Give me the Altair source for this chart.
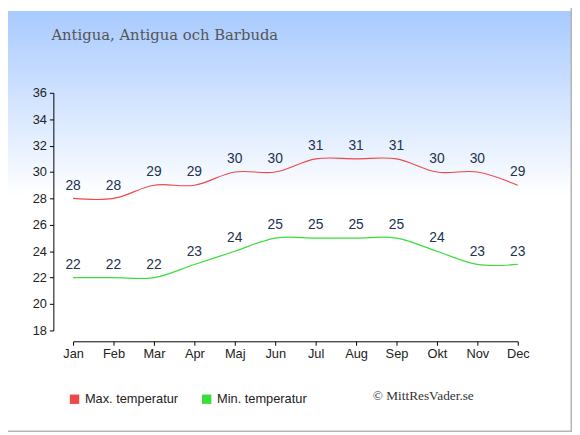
import altair as alt
import pandas as pd

months = ["Jan", "Feb", "Mar", "Apr", "Maj", "Jun", "Jul", "Aug", "Sep", "Okt", "Nov", "Dec"]
max_temp = [28, 28, 29, 29, 30, 30, 31, 31, 31, 30, 30, 29]
min_temp = [22, 22, 22, 23, 24, 25, 25, 25, 25, 24, 23, 23]
series = ["Max. temperatur", "Min. temperatur"]
series_colors = ["#F04848", "#3ADD3A"]
y_ticks = list(range(18, 37, 2))

rows = []
for m, v in zip(months, max_temp):
    rows.append({"month": m, "temp": v, "series": series[0]})
for m, v in zip(months, min_temp):
    rows.append({"month": m, "temp": v, "series": series[1]})
df = pd.DataFrame(rows)
legend_df = pd.DataFrame({"series": series})

W, H = 451, 241
PAD_L, PAD_T = 66, 83
TOTAL_W, TOTAL_H = 572, 427

one = alt.Data(values=[{}])

bg = alt.Chart(one).mark_rect(
    color=alt.Gradient(
        gradient="linear",
        stops=[
            alt.GradientStop(color="#A8CAFF", offset=0),
            alt.GradientStop(color="#FFFFFF", offset=0.44),
            alt.GradientStop(color="#FFFFFF", offset=1),
        ],
        x1=0, x2=0, y1=0, y2=1,
    )
).encode(
    x=alt.value(-PAD_L), x2=alt.value(TOTAL_W - PAD_L),
    y=alt.value(-PAD_T), y2=alt.value(TOTAL_H - PAD_T),
)

border = alt.Chart(one).mark_rect(
    fill="transparent", stroke="#B4B4B4", strokeWidth=1.5
).encode(
    x=alt.value(-PAD_L - 10), x2=alt.value(TOTAL_W - PAD_L - 0.75),
    y=alt.value(-PAD_T - 10), y2=alt.value(TOTAL_H - PAD_T - 0.75),
)

x_enc = alt.X(
    "month:N",
    sort=months,
    scale=alt.Scale(type="point", domain=months, padding=0),
    axis=alt.Axis(
        title=None, labelAngle=0, offset=11, domainColor="#000000",
        tickColor="#000000", tickSize=4, labelPadding=2, labelFontSize=13,
        labelColor="#222222", labelFont="Liberation Sans", grid=False, zindex=2,
        labelOverlap=False,
    ),
)
y_enc = alt.Y(
    "temp:Q",
    scale=alt.Scale(domain=[18, 36], nice=False, zero=False),
    axis=alt.Axis(
        title=None, values=y_ticks, offset=20, domainColor="#000000",
        tickColor="#000000", tickSize=4, labelPadding=3, labelFontSize=13,
        labelColor="#222222", labelFont="Liberation Sans", grid=False, zindex=2,
        labelOverlap=False, labelBound=False, tickCount=10,
    ),
)

lines = alt.Chart(df).mark_line(interpolate="catmull-rom", strokeWidth=1.2).encode(
    x=x_enc,
    y=y_enc,
    color=alt.Color(
        "series:N",
        scale=alt.Scale(domain=series, range=series_colors),
        legend=None,
    ),
)

legend_layer = alt.Chart(legend_df).mark_square(filled=True, size=90, opacity=1).encode(
    x=alt.value(-2000),
    y=alt.value(-2000),
    fill=alt.Fill(
        "series:N",
        scale=alt.Scale(domain=series, range=series_colors),
        legend=alt.Legend(
            title=None, orient="none", legendX=-5, legendY=304,
            direction="horizontal", symbolType="square", symbolSize=90,
            labelFontSize=13, labelColor="#222222", labelFont="Liberation Sans",
            columnPadding=22, labelOffset=4, padding=0, symbolStrokeWidth=0,
            symbolOpacity=1, zindex=2,
        ),
    ),
)

labels = alt.Chart(df).mark_text(
    dy=-13, baseline="middle", fontSize=14, color="#22314F", font="Liberation Sans"
).encode(
    x=x_enc,
    y=y_enc,
    text="temp:Q",
)

title = alt.Chart(one).mark_text(
    text="Antigua, Antigua och Barbuda", align="left", baseline="alphabetic",
    font="DejaVu Serif", fontSize=15, color="#555555",
).encode(x=alt.value(-22), y=alt.value(-54))

copyright = alt.Chart(one).mark_text(
    text="© MittResVader.se", align="left", baseline="alphabetic",
    font="Liberation Serif", fontSize=13.5, color="#333333",
).encode(x=alt.value(304), y=alt.value(312))

chart = alt.layer(bg, border, lines, labels, legend_layer, title, copyright).properties(
    width=W, height=H,
    autosize=alt.AutoSizeParams(type="none"),
    padding={"left": PAD_L, "top": PAD_T, "right": TOTAL_W - PAD_L - W, "bottom": TOTAL_H - PAD_T - H},
    background="white",
).resolve_scale(color="independent", fill="independent").configure_view(stroke=None)

chart.save("out.html", embed_options={"renderer": "svg", "actions": False})
